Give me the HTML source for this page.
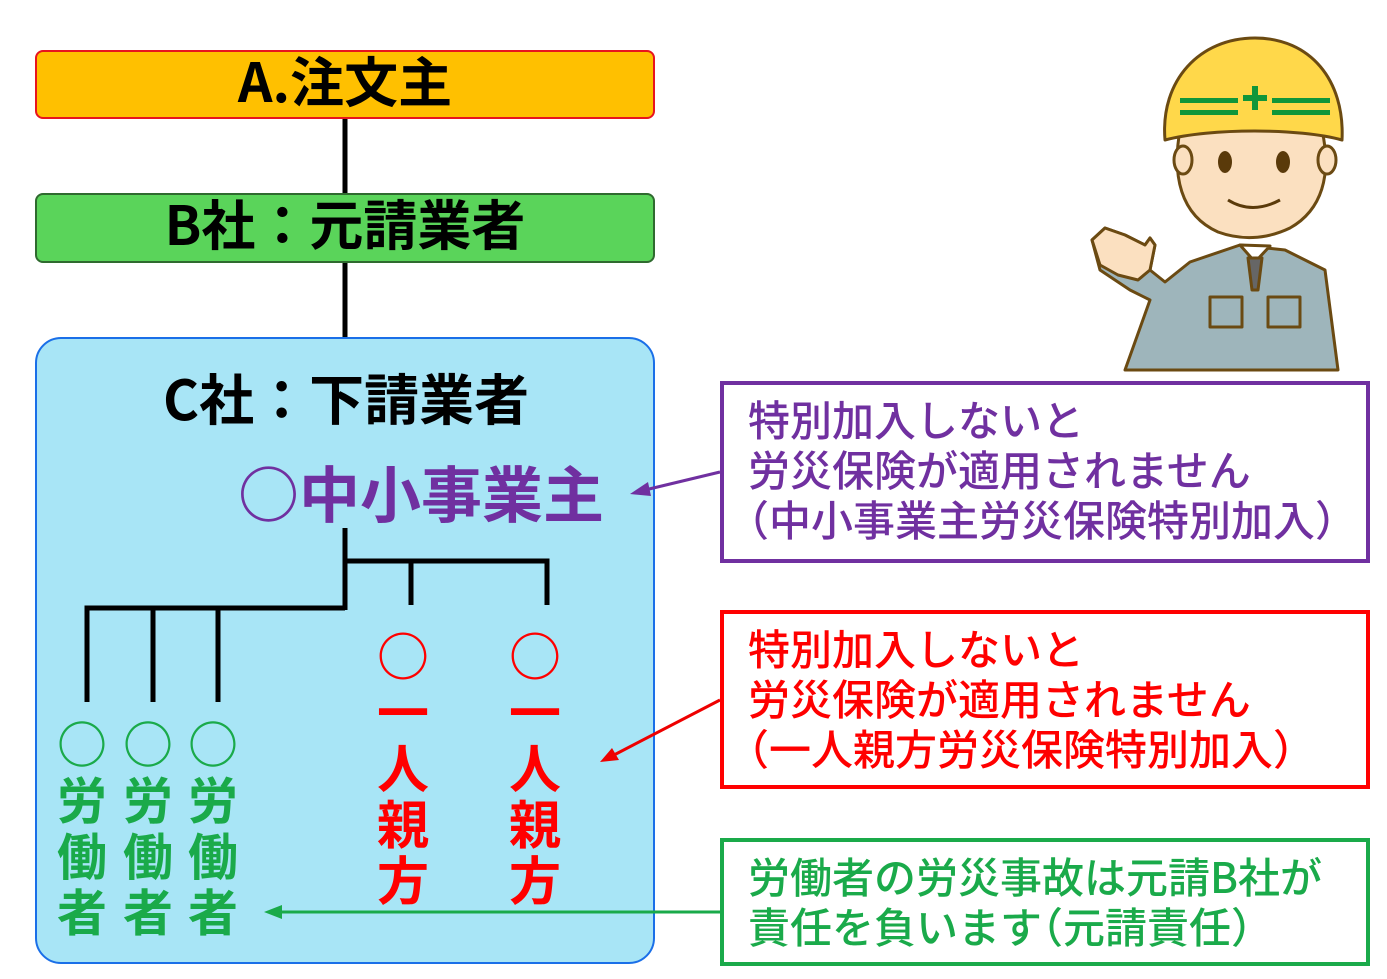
<!DOCTYPE html>
<html><head><meta charset="utf-8"><style>
body{margin:0;width:1387px;height:979px;background:#fff;position:relative;overflow:hidden;font-family:"Noto Sans CJK JP","Liberation Sans",sans-serif;font-weight:bold}
.abs{position:absolute}
.box{position:absolute;box-sizing:border-box}
.t{position:absolute;white-space:nowrap;line-height:1}
.col{position:absolute;line-height:1;text-align:center;white-space:nowrap}
.rb{position:absolute;box-sizing:border-box;border:4px solid;background:#fff;font-size:42px;line-height:50px;padding:9px 0 0 24px;font-weight:500;white-space:nowrap}
.l{margin-left:-21px}.r{margin-right:-21px}
</style></head><body>
<div class="box" style="left:35px;top:50px;width:620px;height:69px;background:#FFC000;border:2px solid #e8141e;border-radius:8px"></div>
<div class="t" style="left:35px;width:620px;top:52px;text-align:center;font-size:54px">A.注文主</div>
<div class="box" style="left:35px;top:193px;width:620px;height:70px;background:#5ad45a;border:2px solid #2f6a2f;border-radius:8px"></div>
<div class="t" style="left:35px;width:620px;top:195px;text-align:center;font-size:54px">B社：元請業者</div>
<div class="box" style="left:35px;top:337px;width:620px;height:627px;background:#a8e5f6;border:2px solid #1a6fe8;border-radius:26px"></div>
<div class="t" style="left:163px;top:369px;font-size:55px">C社：下請業者</div>
<div class="t" style="left:238px;top:460px;font-size:61px;color:#7030A0">○中小事業主</div>
<svg class="abs" style="left:0;top:0" width="1387" height="979">
<g stroke="#000" stroke-width="5" fill="none">
<line x1="345" y1="119" x2="345" y2="193"/>
<line x1="345" y1="263" x2="345" y2="337"/>
<line x1="345" y1="528" x2="345" y2="610"/>
<polyline points="345,561 547,561 547,605"/>
<line x1="411" y1="561" x2="411" y2="605"/>
<polyline points="87,702 87,608 345,608"/>
<line x1="153" y1="608" x2="153" y2="702"/>
<line x1="218" y1="608" x2="218" y2="702"/>
</g>
<g stroke-width="3">
<line x1="720" y1="472" x2="645" y2="490" stroke="#7030A0"/>
<polygon points="630,494 648,482 651,496" fill="#7030A0"/>
<line x1="720" y1="700" x2="614" y2="755" stroke="#e00"/>
<polygon points="600,762 612,748 619,760" fill="#e00"/>
<line x1="720" y1="912" x2="280" y2="912" stroke="#1aaa4a"/>
<polygon points="264,912 282,905 282,919" fill="#1aaa4a"/>
</g>
<g stroke="#6b4a12" stroke-width="3" stroke-linejoin="round">
<path d="M1125,370 L1150,300 L1130,290 L1100,270 L1092,240 L1105,228 L1125,235 L1145,245 L1150,238 L1155,245 L1150,270 L1165,282 L1190,262 L1240,245 L1285,250 L1325,270 L1338,370 Z" fill="#9eb5bb"/>
<path d="M1092,240 L1105,228 L1125,235 L1145,245 L1150,238 L1155,245 L1150,270 L1138,280 L1118,275 L1100,265 Z" fill="#fbe0c0"/>
<path d="M1240,245 L1255,262 L1270,246 Z" fill="#fff"/>
<path d="M1248,258 L1262,258 L1258,290 L1252,290 Z" fill="#666"/>
<rect x="1210" y="297" width="32" height="30" fill="none"/>
<rect x="1268" y="297" width="32" height="30" fill="none"/>
<path d="M1180,130 C1172,175 1180,215 1218,232 C1240,240 1265,240 1290,228 C1322,210 1332,175 1322,130 Z" fill="#fbe0c0"/>
<ellipse cx="1183" cy="160" rx="9" ry="14" fill="#fbe0c0"/>
<ellipse cx="1327" cy="160" rx="9" ry="14" fill="#fbe0c0"/>
<path d="M1165,140 C1160,80 1200,38 1255,38 C1310,38 1345,80 1342,140 C1300,128 1210,128 1165,140 Z" fill="#ffd84a"/>
</g>
<g fill="#10963a">
<rect x="1180" y="98" width="58" height="5"/><rect x="1180" y="110" width="58" height="5"/>
<rect x="1272" y="98" width="58" height="5"/><rect x="1272" y="110" width="58" height="5"/>
<rect x="1243" y="95" width="24" height="6"/><rect x="1252" y="86" width="6" height="24"/>
</g>
<g fill="#5a3a0a"><ellipse cx="1225" cy="162" rx="7" ry="11"/><ellipse cx="1283" cy="162" rx="7" ry="11"/></g>
<path d="M1228,200 Q1252,215 1280,200" stroke="#5a3a0a" stroke-width="3" fill="none"/>
</svg>
<div class="col" style="left:52px;top:714px;width:60px;font-size:50px;color:#1aaa4a;line-height:56px">○<br>労<br>働<br>者</div>
<div class="col" style="left:118px;top:714px;width:60px;font-size:50px;color:#1aaa4a;line-height:56px">○<br>労<br>働<br>者</div>
<div class="col" style="left:183px;top:714px;width:60px;font-size:50px;color:#1aaa4a;line-height:56px">○<br>労<br>働<br>者</div>
<div class="col" style="left:373px;top:626px;width:60px;font-size:52px;color:#f00;line-height:56px">○<br>一<br>人<br>親<br>方</div>
<div class="col" style="left:505px;top:626px;width:60px;font-size:52px;color:#f00;line-height:56px">○<br>一<br>人<br>親<br>方</div>
<div class="rb" style="left:720px;top:381px;width:650px;height:182px;border-color:#7030A0;color:#7030A0">特別加入しないと<br>労災保険が適用されません<br><span class="l">（</span>中小事業主労災保険特別加入）</div>
<div class="rb" style="left:720px;top:610px;width:650px;height:179px;border-color:#f00;color:#f00">特別加入しないと<br>労災保険が適用されません<br><span class="l">（</span>一人親方労災保険特別加入）</div>
<div class="rb" style="left:720px;top:838px;width:650px;height:128px;border-color:#1aaa4a;color:#1aaa4a">労働者の労災事故は元請B社が<br>責任を負います<span class="l">（</span>元請責任）</div>
</body></html>
